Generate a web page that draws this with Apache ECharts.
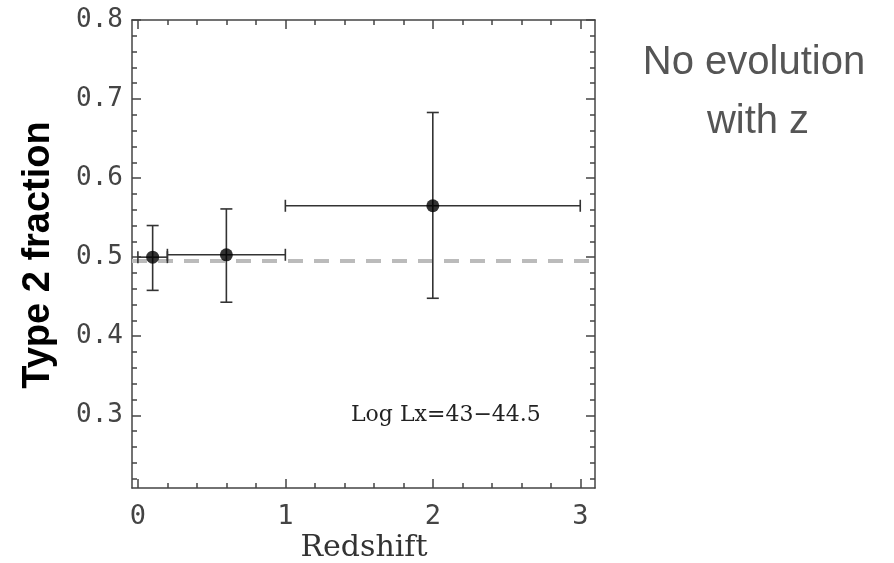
<!DOCTYPE html>
<html><head><meta charset="utf-8">
<script src="https://cdn.jsdelivr.net/npm/echarts@6/dist/echarts.min.js"></script>
<style>html,body{margin:0;padding:0;background:#fff}#c{width:894px;height:563px}</style>
</head><body><div id="c"></div>
<script>
// ---- data ----
const redshift   = [0.1, 0.6, 2.0];
const fraction   = [0.500, 0.503, 0.565];
const zLow       = [0.0, 0.2, 1.0];
const zHigh      = [0.2, 1.0, 3.0];
const fracLow    = [0.458, 0.443, 0.448];
const fracHigh   = [0.540, 0.561, 0.683];
const refLevel   = 0.495;
const xTickLabels = [0, 1, 2, 3];
const yTickLabels = [0.3, 0.4, 0.5, 0.6, 0.7, 0.8];
const xMin = -0.04, xMax = 3.1, yMin = 0.208, yMax = 0.8;

const xMinor = []; for (let v = 0; v <= 3.0001; v += 0.2) xMinor.push(+v.toFixed(2));
const yMinor = []; for (let v = 0.22; v <= 0.8001; v += 0.02) yMinor.push(+v.toFixed(2));

const errData = redshift.map((x, i) => [x, fraction[i], zLow[i], zHigh[i], fracLow[i], fracHigh[i]]);
const ptData = redshift.map((x, i) => [x, fraction[i]]);

const axColor = '#444';
const lineS = {color: axColor, width: 1.5};
function xAx(pos, customVals, len, showLabel, showLine) {
  return {type: 'value', position: pos, min: xMin, max: xMax, gridIndex: 0,
    axisLine: {show: showLine, onZero: false, lineStyle: lineS},
    axisTick: {show: true, inside: true, length: len, customValues: customVals, lineStyle: lineS},
    axisLabel: showLabel ? {show: true, customValues: customVals, margin: 15, fontFamily: 'DejaVu Sans Mono', fontSize: 27, color: '#444', formatter: v => String(Math.round(v))} : {show: false},
    splitLine: {show: false}};
}
function yAx(pos, customVals, len, showLabel, showLine) {
  return {type: 'value', position: pos, min: yMin, max: yMax, gridIndex: 0,
    axisLine: {show: showLine, onZero: false, lineStyle: lineS},
    axisTick: {show: true, inside: true, length: len, customValues: customVals, lineStyle: lineS},
    axisLabel: showLabel ? {show: true, customValues: customVals, margin: 9, fontFamily: 'DejaVu Sans Mono', fontSize: 26, color: '#444', formatter: v => v.toFixed(1)} : {show: false},
    splitLine: {show: false}};
}

const chart = echarts.init(document.getElementById('c'), null, {renderer: 'canvas'});
chart.setOption({
  animation: false,
  backgroundColor: '#fff',
  grid: {left: 132, top: 20, width: 463, height: 468, containLabel: false},
  xAxis: [xAx('bottom', xTickLabels, 9, true, true), xAx('bottom', xMinor, 5, false, false),
          xAx('top', xTickLabels, 9, false, true), xAx('top', xMinor, 5, false, false)],
  yAxis: [yAx('left', yTickLabels, 9, true, true), yAx('left', yMinor, 5, false, false),
          yAx('right', yTickLabels, 9, false, true), yAx('right', yMinor, 5, false, false)],
  series: [
    {type: 'line', xAxisIndex: 0, yAxisIndex: 0, symbol: 'none', z: 1,
     data: [[xMin, refLevel], [xMax, refLevel]],
     lineStyle: {color: '#bbb', width: 4, type: [15, 11]}},
    {type: 'custom', xAxisIndex: 0, yAxisIndex: 0, z: 2, data: errData,
     renderItem: function (params, api) {
       const c = api.coord([api.value(0), api.value(1)]);
       const l = api.coord([api.value(2), api.value(1)]);
       const r = api.coord([api.value(3), api.value(1)]);
       const b = api.coord([api.value(0), api.value(4)]);
       const t = api.coord([api.value(0), api.value(5)]);
       const cap = 6;
       const st = {stroke: '#333', lineWidth: 1.6};
       const ln = (x1, y1, x2, y2) => ({type: 'line', shape: {x1, y1, x2, y2}, style: st});
       return {type: 'group', children: [
         ln(l[0], c[1], r[0], c[1]),
         ln(l[0], c[1] - cap, l[0], c[1] + cap),
         ln(r[0], c[1] - cap, r[0], c[1] + cap),
         ln(c[0], t[1], c[0], b[1]),
         ln(c[0] - cap, t[1], c[0] + cap, t[1]),
         ln(c[0] - cap, b[1], c[0] + cap, b[1])
       ]};
     }},
    {type: 'scatter', xAxisIndex: 0, yAxisIndex: 0, z: 3, data: ptData, symbol: 'circle', symbolSize: 13,
     itemStyle: {color: '#000'}}
  ],
  graphic: [
    {type: 'text', left: 351, top: 404, style: {text: 'Log Lx=43\u221244.5', font: '22px "DejaVu Serif"', fill: '#222'}},
    {type: 'text', x: 364, y: 548, style: {text: 'Redshift', font: '30px "DejaVu Serif"', fill: '#333', align: 'center', verticalAlign: 'middle'}},
    {type: 'text', x: 39, y: 255, rotation: Math.PI / 2, style: {text: 'Type 2 fraction', font: 'bold 38px "Liberation Sans"', fill: '#000', align: 'center', verticalAlign: 'middle'}},
    {type: 'text', x: 754, y: 63, style: {text: 'No evolution', font: '40px "Liberation Sans"', fill: '#555', align: 'center', verticalAlign: 'middle'}},
    {type: 'text', x: 758, y: 122, style: {text: 'with z', font: '40px "Liberation Sans"', fill: '#555', align: 'center', verticalAlign: 'middle'}}
  ]
});
</script></body></html>
